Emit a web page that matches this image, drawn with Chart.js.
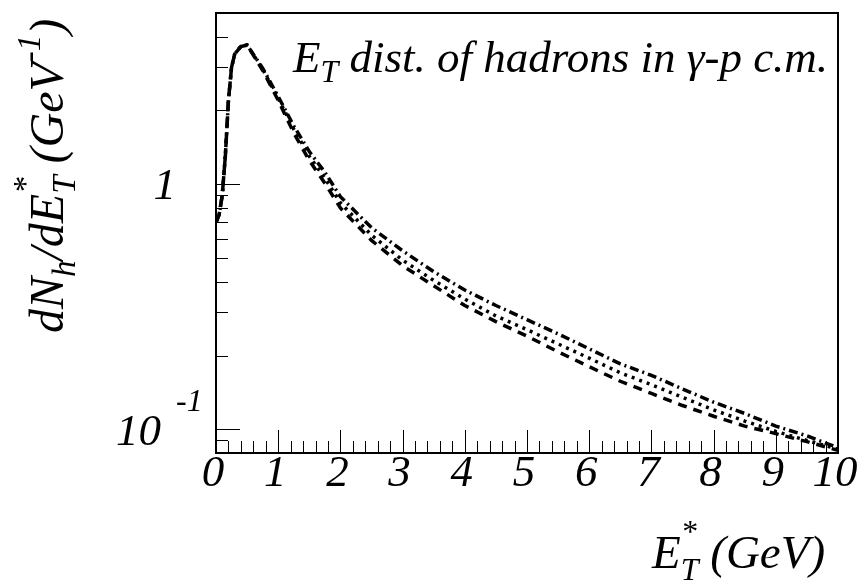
<!DOCTYPE html>
<html><head><meta charset="utf-8">
<script src="https://cdn.jsdelivr.net/npm/chart.js@4"></script>
<style>html,body{margin:0;padding:0;background:#fff;overflow:hidden}</style>
</head><body>
<canvas id="c" width="868" height="587"></canvas>
<script>
// ---- data ----
const energy  = [0, 0.05, 0.1, 0.15, 0.2, 0.25, 0.3, 0.4, 0.5, 0.75, 1.0, 1.25, 1.5, 1.75, 2, 2.5, 3, 3.5, 4, 4.5, 5, 5.5, 6, 6.5, 7, 7.5, 8, 8.5, 9, 9.5, 10];
const dashDotSeries = [0.70,0.75,0.90,1.30,2.20,3.00,3.40,3.65,3.70,2.98,2.28,1.73,1.36,1.12,0.89,0.665,0.535,0.44,0.37,0.32,0.28,0.245,0.213,0.185,0.166,0.146,0.129,0.116,0.103,0.094,0.084];
const dottedSeries  = [0.70,0.75,0.90,1.30,2.20,3.00,3.40,3.65,3.70,2.95,2.24,1.68,1.30,1.06,0.84,0.62,0.49,0.405,0.34,0.29,0.255,0.223,0.195,0.170,0.152,0.135,0.120,0.108,0.098,0.090,0.083];
const dashedSeries  = [0.70,0.75,0.90,1.30,2.20,3.00,3.40,3.65,3.70,2.92,2.20,1.62,1.25,1.01,0.80,0.59,0.465,0.385,0.32,0.275,0.24,0.207,0.180,0.157,0.140,0.125,0.113,0.103,0.096,0.089,0.082];
const xTickValues = [0,1,2,3,4,5,6,7,8,9,10];
const xTickLabels = ['0','1','2','3','4','5','6','7','8','9','10'];
const yMajorTicks = [0.1, 1];
const yMinorTicks = [0.09, 0.2, 0.3, 0.4, 0.5, 0.6, 0.7, 0.8, 0.9, 2, 3, 4];

const FONT = '"Liberation Serif", "Times New Roman", serif';
function f(size){ return 'italic ' + size + 'px ' + FONT; }

function drawRich(ctx, parts, x, y){
  let cx = x;
  for (const p of parts){
    ctx.font = f(p.size);
    ctx.fillText(p.t, cx, y + (p.dy || 0));
    if (!p.noAdvance) cx += ctx.measureText(p.t).width;
  }
}

const decor = {
  id: 'decor',
  afterDraw(chart){
    const {ctx, chartArea: a, scales: {x, y}} = chart;
    ctx.save();
    ctx.strokeStyle = '#000';
    ctx.fillStyle = '#000';
    // inside ticks
    ctx.lineWidth = 1;
    ctx.beginPath();
    for (let i = 0; i <= 50; i++){
      const v = i * 0.2;
      const px = Math.round(x.getPixelForValue(v)) + 0.5;
      const len = (i % 5 === 0) ? 23 : 12;
      ctx.moveTo(px, a.bottom); ctx.lineTo(px, a.bottom - len);
    }
    for (const v of yMajorTicks){
      const py = Math.round(y.getPixelForValue(v)) + 0.5;
      ctx.moveTo(a.left, py); ctx.lineTo(a.left + 24, py);
    }
    for (const v of yMinorTicks){
      const py = Math.round(y.getPixelForValue(v)) + 0.5;
      ctx.moveTo(a.left, py); ctx.lineTo(a.left + 12, py);
    }
    ctx.stroke();
    // frame
    ctx.lineWidth = 2;
    ctx.strokeRect(a.left, a.top, a.right - a.left, a.bottom - a.top);

    // x tick labels
    ctx.textAlign = 'center';
    ctx.textBaseline = 'alphabetic';
    ctx.font = f(45);
    xTickValues.forEach((v, i) => {
      ctx.fillText(xTickLabels[i], x.getPixelForValue(v) - 3, a.bottom + 33);
    });
    // y tick labels
    ctx.textAlign = 'right';
    ctx.font = f(45);
    ctx.fillText('1', a.left - 40, y.getPixelForValue(1) + 15);
    ctx.fillText('10', a.left - 55, y.getPixelForValue(0.1) + 16);
    ctx.textAlign = 'left';
    ctx.font = f(32);
    ctx.fillText('-1', a.left - 40, y.getPixelForValue(0.1) - 18);

    // in-plot title
    drawRich(ctx, [
      {t:'E', size:45},
      {t:'T', size:32, dy:10},
      {t:' dist. of hadrons in \u03b3-p c.m.', size:45}
    ], 293, 72);

    // x-axis title
    drawRich(ctx, [
      {t:'E', size:47},
      {t:'*', size:32, dy:-26, noAdvance:true},
      {t:'T', size:32, dy:12},
      {t:' (GeV)', size:47}
    ], 652, 568);

    // y-axis title
    ctx.save();
    ctx.translate(63, 333);
    ctx.rotate(-Math.PI / 2);
    drawRich(ctx, [
      {t:'dN', size:48},
      {t:'h', size:33, dy:12},
      {t:'/dE', size:48},
      {t:'*', size:33, dy:-27, noAdvance:true},
      {t:'T', size:33, dy:12},
      {t:' (GeV', size:48},
      {t:'-1', size:33, dy:-23},
      {t:')', size:48}
    ], 0, 0);
    ctx.restore();
    ctx.restore();
  }
};

const pts = arr => energy.map((e, i) => ({x: e, y: arr[i]}));
const common = {pointRadius: 0, borderColor: '#000', borderWidth: 3.5, fill: false, tension: 0};

new Chart(document.getElementById('c'), {
  type: 'line',
  data: {
    datasets: [
      Object.assign({label: 'dash-dot', data: pts(dashDotSeries), borderDash: [9, 4, 2, 4]}, common),
      Object.assign({label: 'dotted',   data: pts(dottedSeries),   borderDash: [3, 5]}, common),
      Object.assign({label: 'dashed',   data: pts(dashedSeries),   borderDash: [9, 7]}, common)
    ]
  },
  options: {
    responsive: false,
    animation: false,
    devicePixelRatio: 1,
    layout: {padding: {left: 216, top: 13, right: 30, bottom: 134}},
    plugins: {legend: {display: false}, tooltip: {enabled: false}},
    scales: {
      x: {type: 'linear', min: 0, max: 10, display: false},
      y: {type: 'logarithmic', min: 0.08, max: 5, display: false}
    }
  },
  plugins: [decor]
});
</script>
</body></html>
